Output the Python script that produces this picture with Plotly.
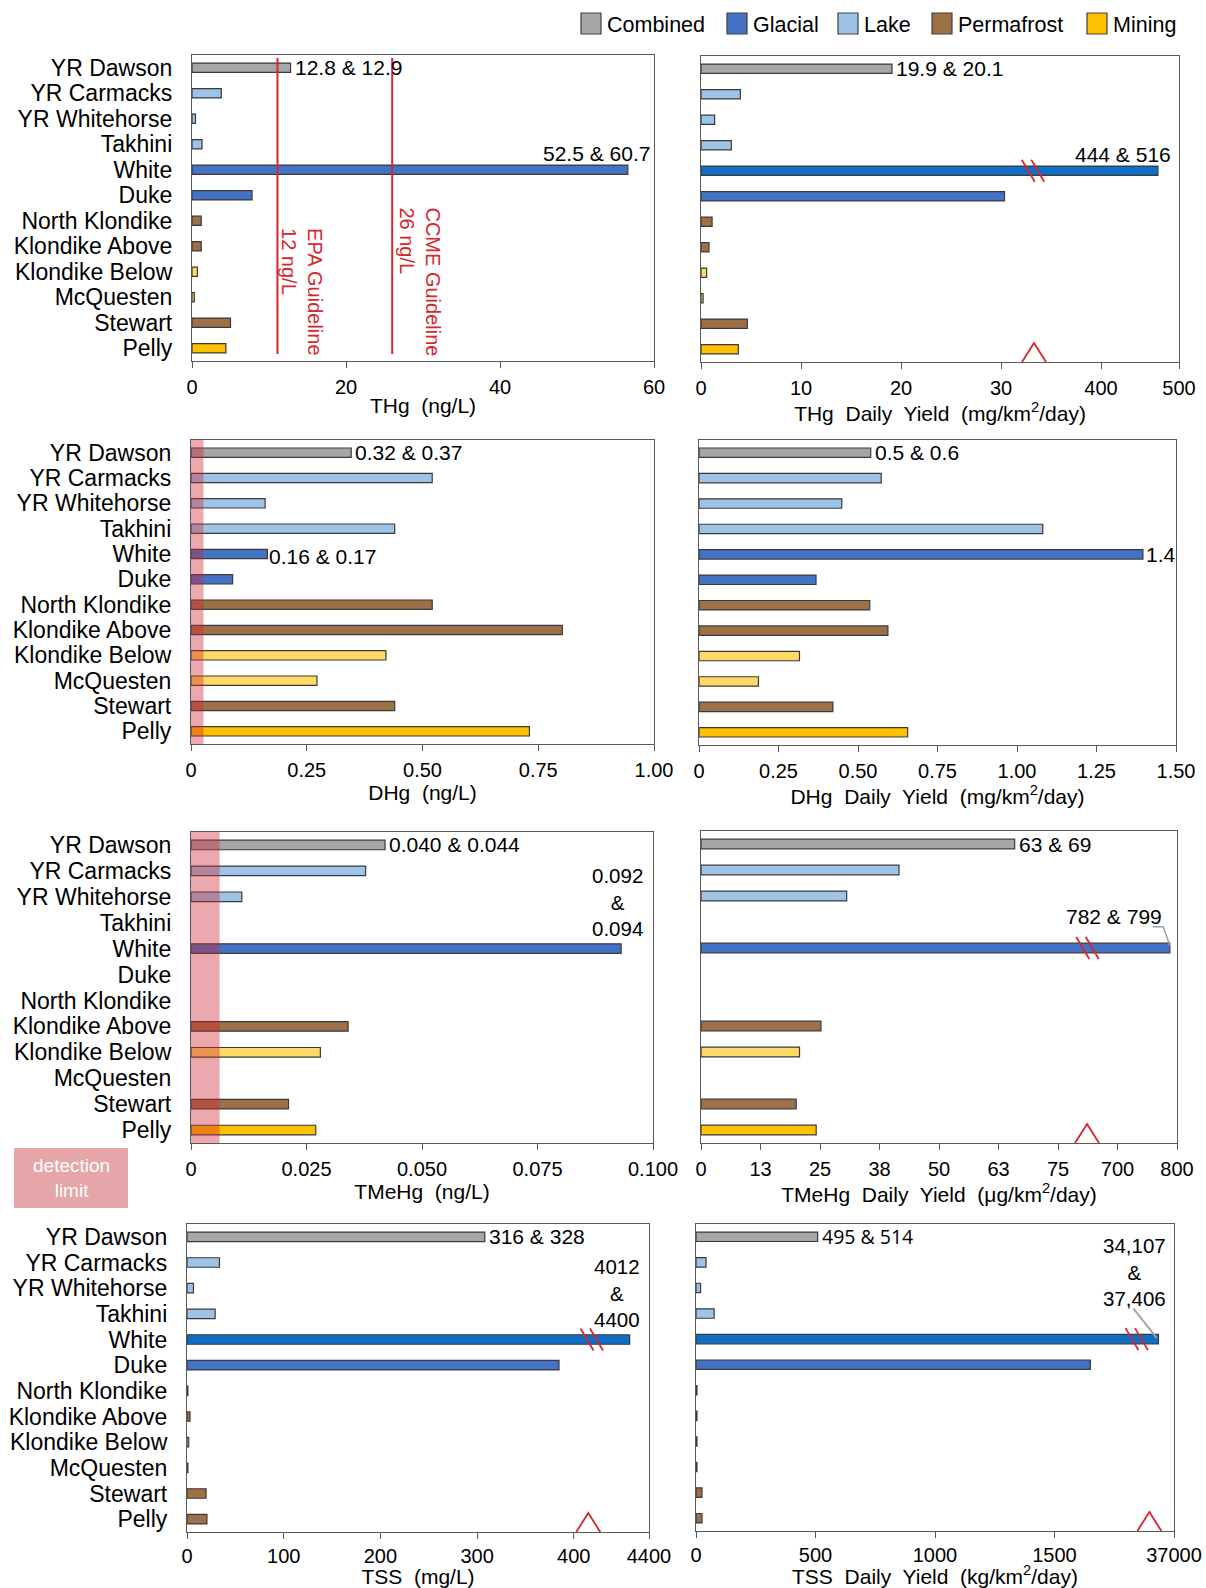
import plotly.graph_objects as go

W, H = 1206, 1588

# ---------------- data ----------------
sites = ["YR Dawson", "YR Carmacks", "YR Whitehorse", "Takhini", "White", "Duke",
         "North Klondike", "Klondike Above", "Klondike Below", "McQuesten", "Stewart", "Pelly"]
groups = ["Combined", "Lake", "Lake", "Lake", "Glacial", "Glacial",
          "Permafrost", "Permafrost", "MiningLight", "MiningLight", "Permafrost", "Mining"]

thg = [12.8, 3.8, 0.45, 1.3, 56.6, 7.8, 1.2, 1.2, 0.7, 0.3, 5.0, 4.4]
thg_yield = [19.1, 3.94, 1.36, 3.03, 473, 30.35, 1.11, 0.80, 0.56, 0.21, 4.63, 3.73]
dhg = [0.346, 0.521, 0.160, 0.440, 0.165, 0.090, 0.521, 0.802, 0.421, 0.272, 0.440, 0.731]
dhg_yield = [0.540, 0.573, 0.449, 1.081, 1.396, 0.368, 0.537, 0.594, 0.316, 0.187, 0.421, 0.656]
tmehg = [0.0420, 0.0378, 0.0110, None, 0.0931, None, None, 0.0340, 0.0280, None, 0.0211, 0.0270]
tmehg_yield = [65.9, 41.6, 30.6, None, 788, None, None, 25.2, 20.7, None, 20.0, 24.2]
tss = [308, 33.6, 6.7, 29.1, 4200, 384.7, 0.9, 3.1, 1.8, 0.9, 19.7, 20.6]
tss_yield = [509, 42, 19, 76, 35700, 1650, 4, 4, 4, 4, 25, 25]

epa_guideline = 11.1
ccme_guideline = 26.0
dhg_detection = 0.027
tmehg_detection = 0.0062

thg_ticks = [0, 20, 40, 60]
thg_yield_ticks = [0, 10, 20, 30, 400, 500]
dhg_ticks = [0, 0.25, 0.5, 0.75, 1.0]
dhg_ticktext = ["0", "0.25", "0.50", "0.75", "1.00"]
dhg_yield_ticks = [0, 0.25, 0.5, 0.75, 1.0, 1.25, 1.5]
dhg_yield_ticktext = ["0", "0.25", "0.50", "0.75", "1.00", "1.25", "1.50"]
tmehg_ticks = [0, 0.025, 0.05, 0.075, 0.1]
tmehg_ticktext = ["0", "0.025", "0.050", "0.075", "0.100"]
tmehg_yield_ticks = [0, 12.5, 25, 37.5, 50, 62.5, 75, 700, 800]
tmehg_yield_ticktext = ["0", "13", "25", "38", "50", "63", "75", "700", "800"]
tss_ticks = [0, 100, 200, 300, 400, 4400]
tss_yield_ticks = [0, 500, 1000, 1500, 37000]

legend_names = ["Combined", "Glacial", "Lake", "Permafrost", "Mining"]

# ---------------- styles ----------------
COL = {"Combined": "#A6A6A6", "Glacial": "#4472C4", "GlacialBright": "#0F6FC6",
       "Lake": "#9DC3E6", "Permafrost": "#9E7047", "Mining": "#FFC000",
       "MiningLight": "#FFD966"}
RED = "#D8262D"
FRAME = "#595959"
FONT = "Liberation Sans, Arial, sans-serif"


def fold(v, brk):
    """map a value onto a broken axis"""
    if v is None:
        return None
    if brk is None or v <= brk["cut"]:
        return v
    return brk["p0"] + (v - brk["v0"]) * brk["k"]


panels = [
    dict(vals=thg, box=(192, 654, 55, 361), rmax=60, ticks=thg_ticks, ticktext=None,
         title="THg  (ng/L)", brk=None, labels=True, over={}),
    dict(vals=thg_yield, box=(701, 1179, 56, 362), rmax=47.8, ticks=thg_yield_ticks, ticktext=None,
         title="THg  Daily  Yield  (mg/km<sup>2</sup>/day)",
         brk=dict(cut=100, v0=400, p0=40, k=0.078), labels=False,
         over={"White": "GlacialBright"}, caret=33.3, slash=33.2),
    dict(vals=dhg, box=(191, 654, 440, 744), rmax=1.0, ticks=dhg_ticks, ticktext=dhg_ticktext,
         title="DHg  (ng/L)", brk=None, labels=True, over={}),
    dict(vals=dhg_yield, box=(699, 1176, 440, 745), rmax=1.5, ticks=dhg_yield_ticks,
         ticktext=dhg_yield_ticktext, title="DHg  Daily  Yield  (mg/km<sup>2</sup>/day)",
         brk=None, labels=False, over={}),
    dict(vals=tmehg, box=(191, 653, 832, 1143), rmax=0.1, ticks=tmehg_ticks, ticktext=tmehg_ticktext,
         title="TMeHg  (ng/L)", brk=None, labels=True, over={}),
    dict(vals=tmehg_yield, box=(701, 1177, 831, 1143), rmax=100, ticks=tmehg_yield_ticks,
         ticktext=tmehg_yield_ticktext, title="TMeHg  Daily  Yield  (μg/km<sup>2</sup>/day)",
         brk=dict(cut=100, v0=700, p0=87.5, k=0.125), labels=False, over={},
         caret=81.1, slash=81.2),
    dict(vals=tss, box=(187, 649, 1224, 1532), rmax=477.8, ticks=tss_ticks, ticktext=None,
         title="TSS  (mg/L)", brk=dict(cut=1000, v0=4400, p0=477.8, k=0.1), labels=True,
         over={"White": "GlacialBright", "Pelly": "Permafrost"}, caret=415, slash=418.6),
    dict(vals=tss_yield, box=(696, 1174, 1224, 1531), rmax=2000, ticks=tss_yield_ticks, ticktext=None,
         title="TSS  Daily  Yield  (kg/km<sup>2</sup>/day)",
         brk=dict(cut=5000, v0=37000, p0=2000, k=0.05), labels=False,
         over={"White": "GlacialBright", "Pelly": "Permafrost"}, caret=1897, slash=1844),
]

fig = go.Figure()
layout = dict(
    width=W, height=H, autosize=False,
    margin=dict(l=0, r=0, t=0, b=0, pad=0, autoexpand=False),
    paper_bgcolor="white", plot_bgcolor="white", showlegend=False,
    font=dict(family=FONT, color="black", size=20),
)
shapes = []
annotations = []


def xp(px):
    return px / W


def yp(py):
    return 1 - py / H


for i, p in enumerate(panels, start=1):
    sfx = "" if i == 1 else str(i)
    xa, ya = "x" + sfx, "y" + sfx
    x0, x1, y0, y1 = p["box"]
    bottom_row = i >= 7
    disp = [fold(v, p["brk"]) for v in p["vals"]]
    colors = [COL[p["over"].get(s, g)] for s, g in zip(sites, groups)]
    fig.add_trace(go.Bar(
        x=disp, y=sites, orientation="h", xaxis=xa, yaxis=ya,
        width=0.37, customdata=p["vals"],
        hovertemplate="%{y}: %{customdata}<extra></extra>",
        marker=dict(color=colors, line=dict(color="#3A3A3A", width=1.2)),
    ))
    tickvals = [fold(t, p["brk"]) for t in p["ticks"]]
    ticktext = p["ticktext"] if p["ticktext"] else [str(t) for t in p["ticks"]]
    layout["xaxis" + sfx] = dict(
        domain=[xp(x0), xp(x1)], anchor=ya, range=[0, p["rmax"]], automargin=False,
        tickmode="array", tickvals=tickvals, ticktext=ticktext,
        ticks="outside", ticklen=6, tickwidth=1.2, tickcolor=FRAME,
        showline=True, mirror=True, linecolor=FRAME, linewidth=1.3,
        showgrid=False, zeroline=False, tickfont=dict(size=20),
        ticklabelstandoff=0 if bottom_row else 2,
        title=dict(text=p["title"], standoff=3 if bottom_row else 1, font=dict(size=21)),
    )
    layout["yaxis" + sfx] = dict(
        domain=[yp(y1), yp(y0)], anchor=xa, type="category", categoryorder="array",
        categoryarray=sites, tickmode="array", tickvals=sites, ticktext=sites,
        range=[11.5, -0.5], showticklabels=p["labels"], automargin=False,
        ticks="", showline=True, mirror=True, linecolor=FRAME, linewidth=1.3,
        showgrid=False, zeroline=False, tickfont=dict(size=23),
        ticklabelstandoff=14,
    )
    # broken axis markers
    if p["brk"] is not None:
        ppu = (x1 - x0) / p["rmax"]
        rowpx = (y1 - y0) / 12.0
        c = p["caret"]
        hw = 12 / ppu
        shapes.append(dict(type="path", xref=xa, yref=ya + " domain",
                           path=f"M {c - hw},0 L {c},{19 / (y1 - y0)} L {c + hw},0",
                           line=dict(color=RED, width=1.8)))
        wi = sites.index("White")
        for off in (-4.75, 4.75):
            cx = p["slash"] + off / ppu
            shapes.append(dict(type="line", xref=xa, yref=ya,
                               x0=cx - 6.5 / ppu, x1=cx + 6.5 / ppu,
                               y0=wi - 11 / rowpx, y1=wi + 11 / rowpx,
                               line=dict(color=RED, width=1.8)))

# ---------------- guideline lines (THg) ----------------
for val, txt, dx, ymid in [(epa_guideline, "EPA Guideline<br>12 ng/L", 3.2, 0.225),
                           (ccme_guideline, "CCME Guideline<br>26 ng/L", 3.6, 0.257)]:
    shapes.append(dict(type="line", xref="x", yref="y domain", x0=val, x1=val,
                       y0=0.023, y1=0.99, line=dict(color=RED, width=2)))
    annotations.append(dict(xref="x", yref="y domain", x=val + dx, y=ymid, text=txt,
                            textangle=90, align="left", showarrow=False,
                            xanchor="center", yanchor="middle",
                            font=dict(size=20, color=RED)))

# ---------------- detection limit shading ----------------
for ax, lim in [("3", dhg_detection), ("5", tmehg_detection)]:
    shapes.append(dict(type="rect", xref="x" + ax, yref="y" + ax + " domain",
                       x0=0, x1=lim, y0=0, y1=1, layer="above",
                       fillcolor="rgba(205,40,50,0.4)", line=dict(width=0)))
shapes.append(dict(type="rect", xref="paper", yref="paper", x0=xp(14), x1=xp(128),
                   y0=yp(1208), y1=yp(1148), fillcolor="#E6A6A9", line=dict(width=0)))
annotations.append(dict(xref="paper", yref="paper", x=xp(71), y=yp(1178),
                        xanchor="center", yanchor="middle",
                        text="detection<br>limit", showarrow=False,
                        font=dict(size=19, color="white")))

# ---------------- value labels ----------------
def lab(ax, x, y, text, **kw):
    d = dict(xref="x" + ax, yref="y" + ax, x=x, y=y, text=text, showarrow=False,
             font=dict(size=21), xanchor="left", yanchor="middle")
    d.update(kw)
    annotations.append(d)


wi = sites.index("White")
lab("", thg[0], 0, "12.8 & 12.9", xshift=2)
annotations.append(dict(xref="x domain", yref="y", x=0.995, y=wi, yanchor="bottom",
                        xanchor="right", yshift=3, text="52.5 & 60.7", showarrow=False,
                        font=dict(size=21)))
lab("2", fold(thg_yield[0], panels[1]["brk"]), 0, "19.9 & 20.1", xshift=2)
annotations.append(dict(xref="x2 domain", yref="y2", x=0.987, y=wi, yanchor="bottom",
                        xanchor="right", yshift=3, text="444 & 516", showarrow=False,
                        font=dict(size=21)))
lab("3", dhg[0], 0, "0.32 & 0.37", xshift=2)
lab("3", dhg[wi], wi, "0.16 & 0.17", xshift=0, yshift=-2)
lab("4", dhg_yield[0], 0, "0.5 & 0.6", xshift=2)
lab("4", dhg_yield[wi], wi, "1.4", xshift=1)
lab("5", tmehg[0], 0, "0.040 & 0.044", xshift=2)
annotations.append(dict(xref="x5 domain", yref="y5", x=0.924, y=wi, yanchor="bottom",
                        xanchor="center", yshift=7, text="0.092<br>&<br>0.094",
                        showarrow=False, font=dict(size=20.5)))
lab("6", tmehg_yield[0], 0, "63 & 69", xshift=2)
end6 = fold(tmehg_yield[wi], panels[5]["brk"])
annotations.append(dict(xref="x6", yref="y6", x=end6 - 1.3, y=2.77, xanchor="right",
                        yanchor="middle", text="782 & 799", showarrow=False,
                        font=dict(size=21)))
shapes.append(dict(type="path", xref="x6", yref="y6",
                   path=f"M {end6 - 3.6},3.18 L {end6 - 1.4},3.18 L {end6},3.9",
                   line=dict(color="#A0A0A0", width=1.5)))
lab("7", tss[0], 0, "316 & 328", xshift=2)
annotations.append(dict(xref="x7 domain", yref="y7", x=0.931, y=wi, yanchor="bottom",
                        xanchor="center", yshift=7, text="4012<br>&<br>4400",
                        showarrow=False, font=dict(size=20.5)))
lab("8", tss_yield[0], 0, "495 & 514", xshift=2, font=dict(size=19.5, family="Open Sans"))
end8 = fold(tss_yield[wi], panels[7]["brk"])
annotations.append(dict(xref="x8 domain", yref="y8", x=0.918, y=1.36, xanchor="center",
                        yanchor="middle", text="34,107<br>&<br>37,406", showarrow=False,
                        font=dict(size=20.5)))
shapes.append(dict(type="line", xref="x8", yref="y8", x0=end8 - 105, y0=2.8,
                   x1=end8 - 7, y1=3.96, line=dict(color="#A0A0A0", width=1.8)))

# ---------------- legend (drawn) ----------------
leg_box_x = [581, 727, 838, 932, 1087]
leg_cols = [COL["Combined"], COL["Glacial"], COL["Lake"], COL["Permafrost"], COL["Mining"]]
for bx, name, colr in zip(leg_box_x, legend_names, leg_cols):
    shapes.append(dict(type="rect", xref="paper", yref="paper", x0=xp(bx), x1=xp(bx + 20),
                       y0=yp(34), y1=yp(13), fillcolor=colr,
                       line=dict(color="#404040", width=1.2)))
    annotations.append(dict(xref="paper", yref="paper", x=xp(bx + 24), y=yp(24.5),
                            xanchor="left", yanchor="middle", text=name, showarrow=False,
                            font=dict(size=21.5)))

layout["shapes"] = shapes
layout["annotations"] = annotations
fig.update_layout(**layout)
fig.write_html("out.html", config={"responsive": False})
